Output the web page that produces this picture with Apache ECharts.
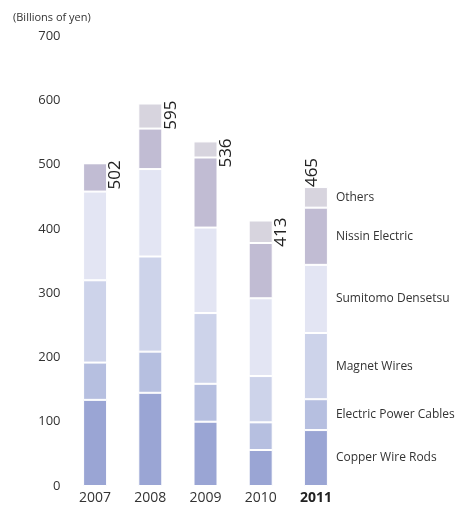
<!DOCTYPE html>
<html><head><meta charset="utf-8">
<script src="https://cdn.jsdelivr.net/npm/echarts@6/dist/echarts.min.js"></script>
<style>html,body{margin:0;padding:0;background:#fff}#c{width:455px;height:505px}</style>
</head><body><div id="c"></div>
<script>
const years = ['2007','2008','2009','2010','2011'];
const seriesNames = ['Copper Wire Rods','Electric Power Cables','Magnet Wires','Sumitomo Densetsu','Nissin Electric','Others'];
const copperWireRods = [134,145,100,56,87];
const electricPowerCables = [58,64,59,43,48];
const magnetWires = [128,148,110,72,103];
const sumitomoDensetsu = [138,136,133,121,106];
const nissinElectric = [44,63,109,86,89];
const others = [0,39,25,35,32];
const totals = [502,595,536,413,465];
const yTicks = [0,100,200,300,400,500,600,700];
const colors = ['#9aa5d4','#b6bfe0','#cdd3ea','#e3e5f3','#c1bcd3','#d7d4de'];

const values = [copperWireRods, electricPowerCables, magnetWires, sumitomoDensetsu, nissinElectric, others];
const FONT = '"Open Sans", sans-serif';
const last = years.length - 1;

const series = values.map((vals, si) => ({
  name: seriesNames[si],
  type: 'bar',
  stack: 'total',
  barWidth: 24,
  itemStyle: { color: colors[si], borderColor: '#fff', borderWidth: 1 },
  data: vals.map((v, i) => i === last ? {
    value: v,
    label: {
      show: true, position: 'right', distance: 8,
      formatter: seriesNames[si], color: '#333', fontSize: 12, fontFamily: FONT
    }
  } : v)
}));

// zero-height stacked series on top of each stack carrying the total labels
series.push({
  name: 'Total',
  type: 'bar',
  stack: 'total',
  barWidth: 24,
  silent: true,
  itemStyle: { color: 'rgba(0,0,0,0)', borderWidth: 0 },
  data: totals.map((t, i) => ({
    value: 0,
    label: i === last ? {
      show: true, position: ['50%', 0], rotate: 90, align: 'left', verticalAlign: 'middle',
      offset: [0, -4],
      formatter: String(t), color: '#222', fontSize: 17, fontFamily: FONT
    } : {
      show: true, position: ['100%', 0], rotate: 90, align: 'right', verticalAlign: 'top',
      offset: [3, 0],
      formatter: String(t), color: '#222', fontSize: 17, fontFamily: FONT
    }
  }))
});

const chart = echarts.init(document.getElementById('c'), null, { renderer: 'canvas' });
chart.setOption({
  animation: false,
  backgroundColor: '#fff',
  title: {
    text: '(Billions of yen)', left: 8, top: 7,
    textStyle: { fontSize: 11, fontWeight: 'normal', color: '#333', fontFamily: FONT }
  },
  grid: { left: 67.5, right: 111.5, top: 36, bottom: 19 },
  xAxis: {
    type: 'category',
    data: years.map((y, i) => i === last ? { value: y, textStyle: { fontWeight: 'bold', color: '#222' } } : y),
    axisLine: { show: false }, axisTick: { show: false },
    axisLabel: { color: '#333', fontSize: 14, fontFamily: FONT, margin: 5 }
  },
  yAxis: {
    type: 'value', min: yTicks[0], max: yTicks[yTicks.length - 1], interval: 100,
    axisLine: { show: false }, axisTick: { show: false }, splitLine: { show: false },
    axisLabel: { color: '#333', fontSize: 13, fontFamily: FONT, margin: 7 }
  },
  series: series
});
</script></body></html>
